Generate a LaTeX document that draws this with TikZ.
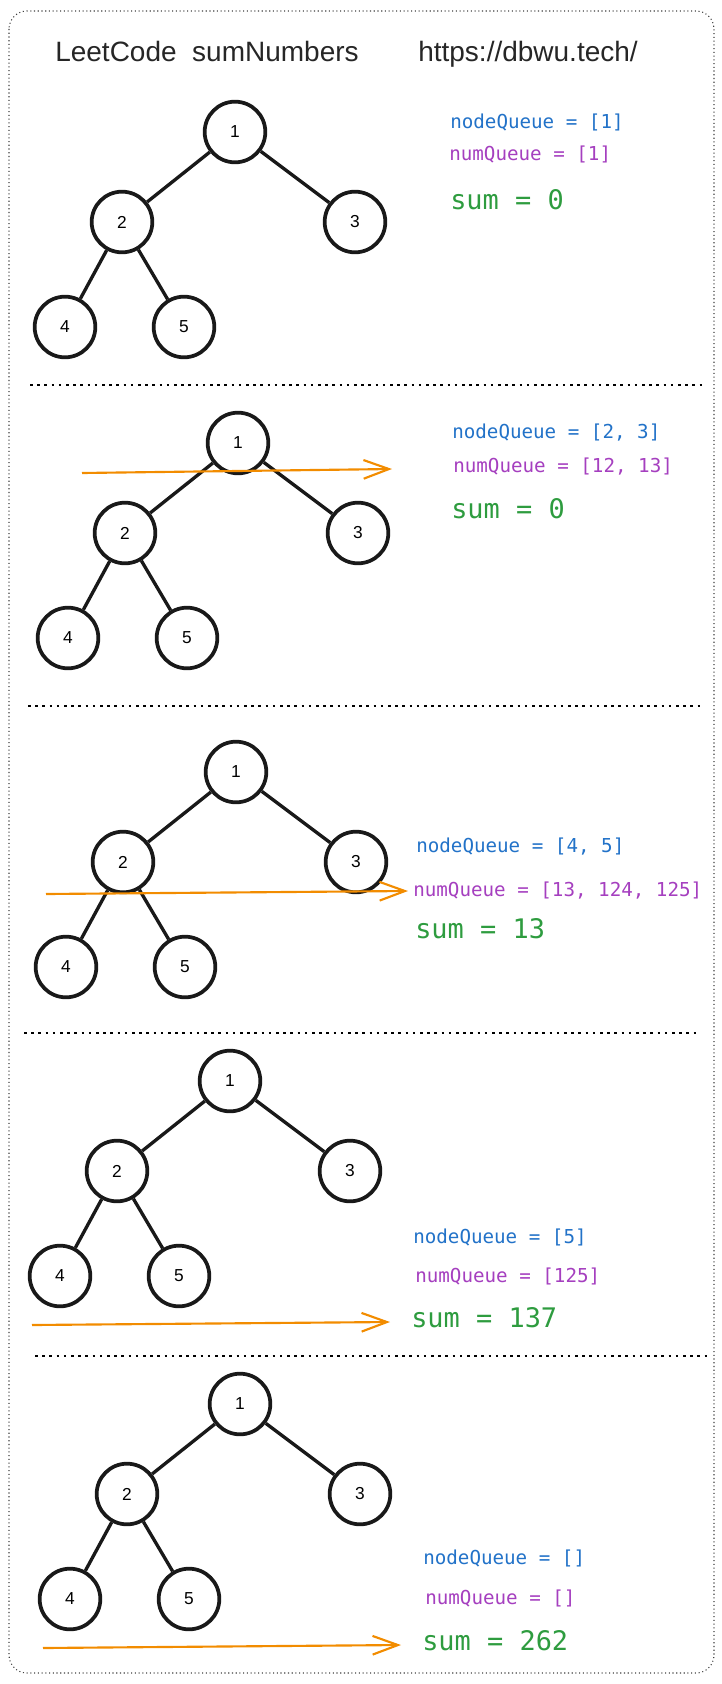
\documentclass[tikz,border=0pt]{standalone}
\usepackage{fontspec}
\setmainfont{Liberation Sans}
\setmonofont{DejaVu Sans Mono}
\usetikzlibrary{arrows.meta}

\definecolor{qblue}{HTML}{2272C8}
\definecolor{qpurple}{HTML}{A53FBF}
\definecolor{qgreen}{HTML}{2E9C3F}
\definecolor{qorange}{HTML}{F28C00}

\begin{document}
\begin{tikzpicture}[x=0.75pt, y=-0.75pt,
  treenode/.style={circle, draw=black!90, line width=2.8pt, minimum size=45.5pt, inner sep=0pt, font=\fontsize{13}{13}\selectfont},
  treeedge/.style={line width=2.5pt, black!90},
  nodeq/.style={anchor=west, inner sep=0pt, text=qblue, font=\ttfamily\fontsize{14.4}{14.4}\selectfont},
  numq/.style={anchor=west, inner sep=0pt, text=qpurple, font=\ttfamily\fontsize{14.4}{14.4}\selectfont},
  sumtext/.style={anchor=west, inner sep=0pt, text=qgreen, font=\ttfamily\fontsize{20.2}{20.2}\selectfont},
  sepline/.style={line width=2pt, dash pattern=on 2pt off 3.4pt},
  walk/.style={qorange, line width=1.6pt, -{Straight Barb[length=19pt, width=14pt]}}]

  \useasboundingbox (0,0) rectangle (721,1684);

  \draw[dotted, line width=0.8pt, black!75, rounded corners=13.5pt] (9,11) rectangle (714,1673);

  \node[anchor=base west, inner sep=0pt, text=black!85, font=\fontsize{21}{21}\selectfont] (title) at (55,62) {LeetCode\ \ sumNumbers};
  \node[anchor=base west, inner sep=0pt, text=black!85, font=\fontsize{21}{21}\selectfont] (url) at (418,62) {https://dbwu.tech/};

  \foreach \t/\x/\y in {1/235/132, 2/238/443, 3/236/772, 4/230/1081, 5/240/1404} {
    \node[treenode] (n\t-1) at (\x,\y) {1};
    \node[treenode] (n\t-2) at ([shift={(-113,90)}]n\t-1) {2};
    \node[treenode] (n\t-3) at ([shift={(120,90)}]n\t-1) {3};
    \node[treenode] (n\t-4) at ([shift={(-170,195)}]n\t-1) {4};
    \node[treenode] (n\t-5) at ([shift={(-51,195)}]n\t-1) {5};
    \draw[treeedge] (n\t-1) -- (n\t-2);
    \draw[treeedge] (n\t-1) -- (n\t-3);
    \draw[treeedge] (n\t-2) -- (n\t-4);
    \draw[treeedge] (n\t-2) -- (n\t-5);
  }

  \draw[sepline] (30,385) -- (702,385);
  \draw[sepline] (28,706) -- (700,706);
  \draw[sepline] (24,1033) -- (697,1033);
  \draw[sepline] (35,1356) -- (707,1356);

  \node[nodeq] (nq1) at (450,122) {nodeQueue = [1]};
  \node[numq] (mq1) at (449,154) {numQueue = [1]};
  \node[sumtext] (s1) at (450,200) {sum = 0};

  \node[nodeq] (nq2) at (452,433) {nodeQueue = [2, 3]};
  \node[numq] (mq2) at (453,467) {numQueue = [12, 13]};
  \node[sumtext] (s2) at (451,509) {sum = 0};
  \coordinate (a2s) at (82,473);
  \coordinate (a2e) at (392,469);
  \draw[walk] (a2s) -- (a2e);

  \node[nodeq] (nq3) at (416,847) {nodeQueue = [4, 5]};
  \node[numq] (mq3) at (413,891) {numQueue = [13, 124, 125]};
  \node[sumtext] (s3) at (415,929) {sum = 13};
  \coordinate (a3s) at (46,894);
  \coordinate (a3e) at (408,891);
  \draw[walk] (a3s) -- (a3e);

  \node[nodeq] (nq4) at (413,1237) {nodeQueue = [5]};
  \node[numq] (mq4) at (415,1276) {numQueue = [125]};
  \node[sumtext] (s4) at (411,1318) {sum = 137};
  \coordinate (a4s) at (32,1325);
  \coordinate (a4e) at (390,1322);
  \draw[walk] (a4s) -- (a4e);

  \node[nodeq] (nq5) at (423,1558) {nodeQueue = []};
  \node[numq] (mq5) at (425,1598) {numQueue = []};
  \node[sumtext] (s5) at (422,1641) {sum = 262};
  \coordinate (a5s) at (43,1648);
  \coordinate (a5e) at (401,1645);
  \draw[walk] (a5s) -- (a5e);

\end{tikzpicture}
\end{document}
